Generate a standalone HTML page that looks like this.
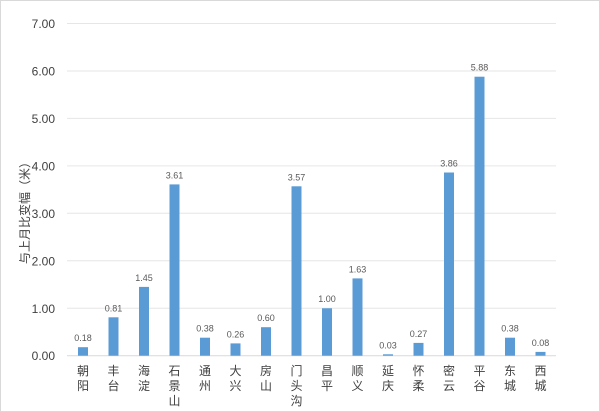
<!DOCTYPE html>
<html><head><meta charset="utf-8"><style>
body{margin:0;background:#fff}
svg{display:block}
text{font-family:"Liberation Sans","Noto Sans CJK SC",sans-serif}
</style></head><body>
<svg width="600" height="412" viewBox="0 0 600 412" xmlns="http://www.w3.org/2000/svg">
<rect x="0.5" y="0.5" width="599" height="411" fill="#fff" stroke="#d9d9d9"/>
<g stroke="#e6e6e6" stroke-width="1">
<line x1="67" x2="556" y1="23.5" y2="23.5"/>
<line x1="67" x2="556" y1="71" y2="71"/>
<line x1="67" x2="556" y1="118.4" y2="118.4"/>
<line x1="67" x2="556" y1="165.9" y2="165.9"/>
<line x1="67" x2="556" y1="213.3" y2="213.3"/>
<line x1="67" x2="556" y1="260.8" y2="260.8"/>
<line x1="67" x2="556" y1="308.2" y2="308.2"/>
</g>
<line x1="67" x2="556" y1="355.7" y2="355.7" stroke="#d9d9d9"/>
<g font-size="12" fill="#404040" text-anchor="end">
<text x="55" y="28">7.00</text><text x="55" y="75.5">6.00</text><text x="55" y="123">5.00</text>
<text x="55" y="170.5">4.00</text><text x="55" y="218">3.00</text><text x="55" y="265.5">2.00</text>
<text x="55" y="313">1.00</text><text x="55" y="360">0.00</text>
</g>
<text transform="translate(29,210) rotate(-90)" font-size="12" fill="#404040" text-anchor="middle">与上月比变幅（米）</text>
<g fill="#5b9bd5">
<rect x="78" y="347.2" width="10" height="8.5"/>
<rect x="108.5" y="317.3" width="10" height="38.4"/>
<rect x="139" y="286.9" width="10" height="68.8"/>
<rect x="169.5" y="184.4" width="10" height="171.3"/>
<rect x="200" y="337.7" width="10" height="18"/>
<rect x="230.5" y="343.4" width="10" height="12.3"/>
<rect x="261" y="327.2" width="10" height="28.5"/>
<rect x="291.5" y="186.3" width="10" height="169.4"/>
<rect x="322" y="308.25" width="10" height="47.45"/>
<rect x="352.5" y="278.4" width="10" height="77.3"/>
<rect x="383" y="354.3" width="10" height="1.4"/>
<rect x="413.5" y="342.9" width="10" height="12.8"/>
<rect x="444" y="172.5" width="10" height="183.2"/>
<rect x="474.5" y="76.7" width="10" height="279"/>
<rect x="505" y="337.7" width="10" height="18"/>
<rect x="535.5" y="351.9" width="10" height="3.8"/>
</g>
<g font-size="9" fill="#595959" text-anchor="middle">
<text x="83" y="341.2">0.18</text>
<text x="113.5" y="311.3">0.81</text>
<text x="144" y="280.9">1.45</text>
<text x="174.5" y="178.4">3.61</text>
<text x="205" y="331.7">0.38</text>
<text x="235.5" y="337.4">0.26</text>
<text x="266" y="321.2">0.60</text>
<text x="296.5" y="180.3">3.57</text>
<text x="327" y="302.2">1.00</text>
<text x="357.5" y="272.4">1.63</text>
<text x="388" y="348.3">0.03</text>
<text x="418.5" y="336.9">0.27</text>
<text x="449" y="166.5">3.86</text>
<text x="479.5" y="70.7">5.88</text>
<text x="510" y="331.7">0.38</text>
<text x="540.5" y="345.9">0.08</text>
</g>
<g font-size="12" fill="#404040" text-anchor="middle">
<text x="83" y="375">朝</text><text x="83" y="390">阳</text>
<text x="113.5" y="375">丰</text><text x="113.5" y="390">台</text>
<text x="144" y="375">海</text><text x="144" y="390">淀</text>
<text x="174.5" y="375">石</text><text x="174.5" y="390">景</text><text x="174.5" y="405">山</text>
<text x="205" y="375">通</text><text x="205" y="390">州</text>
<text x="235.5" y="375">大</text><text x="235.5" y="390">兴</text>
<text x="266" y="375">房</text><text x="266" y="390">山</text>
<text x="296.5" y="375">门</text><text x="296.5" y="390">头</text><text x="296.5" y="405">沟</text>
<text x="327" y="375">昌</text><text x="327" y="390">平</text>
<text x="357.5" y="375">顺</text><text x="357.5" y="390">义</text>
<text x="388" y="375">延</text><text x="388" y="390">庆</text>
<text x="418.5" y="375">怀</text><text x="418.5" y="390">柔</text>
<text x="449" y="375">密</text><text x="449" y="390">云</text>
<text x="479.5" y="375">平</text><text x="479.5" y="390">谷</text>
<text x="510" y="375">东</text><text x="510" y="390">城</text>
<text x="540.5" y="375">西</text><text x="540.5" y="390">城</text>
</g>
</svg>
</body></html>
